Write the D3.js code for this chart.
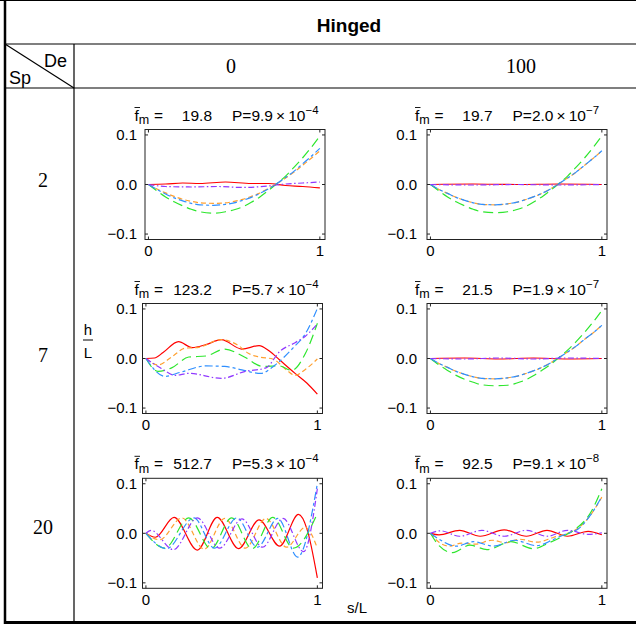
<!DOCTYPE html>
<html>
<head>
<meta charset="utf-8">
<script src="https://cdn.jsdelivr.net/npm/d3@7"></script>
<style>
  body { margin: 0; background: #fff; }
  svg { display: block; }
</style>
</head>
<body>
<svg id="chart" width="636" height="627"></svg>
<script>
// table labels
const rowLabels = ['2', '7', '20']
const colLabels = ['0', '100']
const fmValues = [['19.8', '19.7'], ['123.2', '21.5'], ['512.7', '92.5']]
const pMantissa = [['9.9', '2.0'], ['5.7', '1.9'], ['5.3', '9.1']]
const pExponent = [['−4', '−7'], ['−4', '−7'], ['−4', '−8']]
const xTicks = [0, 1]
const yTicks = [-0.1, 0, 0.1]

// series order in every panel: red, orange, green, blue, purple
// knots are [s/L, h/L]
const sp2de0 = [
  [[0, 0], [0.1, 0.001], [0.2, 0.003], [0.3, 0.002], [0.45, 0.005], [0.6, 0.002], [0.7, 0.002], [0.8, -0.002], [0.9, -0.004], [1, -0.007]],
  [[0, 0], [0.05, -0.009], [0.1, -0.017], [0.15, -0.024], [0.2, -0.03], [0.25, -0.034], [0.3, -0.037], [0.38, -0.038], [0.45, -0.037], [0.5, -0.034], [0.55, -0.03], [0.6, -0.024], [0.65, -0.017], [0.7, -0.008], [0.75, 0.002], [0.8, 0.013], [0.85, 0.025], [0.9, 0.039], [0.95, 0.053], [1, 0.068]],
  [[0, 0], [0.05, -0.013], [0.1, -0.025], [0.15, -0.035], [0.2, -0.043], [0.25, -0.05], [0.3, -0.055], [0.38, -0.058], [0.45, -0.055], [0.5, -0.051], [0.55, -0.045], [0.6, -0.036], [0.65, -0.025], [0.7, -0.012], [0.75, 0.002], [0.8, 0.017], [0.85, 0.035], [0.9, 0.054], [0.95, 0.075], [1, 0.098]],
  [[0, 0], [0.05, -0.01], [0.1, -0.019], [0.15, -0.027], [0.2, -0.033], [0.25, -0.038], [0.3, -0.041], [0.38, -0.042], [0.45, -0.04], [0.5, -0.037], [0.55, -0.032], [0.6, -0.026], [0.65, -0.018], [0.7, -0.009], [0.75, 0.002], [0.8, 0.014], [0.85, 0.027], [0.9, 0.042], [0.95, 0.057], [1, 0.073]],
  [[0, 0], [0.1, -0.004], [0.25, -0.005], [0.4, -0.004], [0.55, -0.006], [0.7, -0.003], [0.8, 0.001], [0.9, 0.003], [1, 0.005]]
]
const sp2de100 = [
  [[0, 0], [0.25, 0.001], [0.5, 0], [0.75, 0.001], [1, 0]],
  [[0, 0], [0.05, -0.01], [0.1, -0.018], [0.15, -0.026], [0.2, -0.032], [0.25, -0.037], [0.3, -0.04], [0.38, -0.041], [0.45, -0.039], [0.5, -0.036], [0.55, -0.031], [0.6, -0.025], [0.65, -0.018], [0.7, -0.009], [0.75, 0.002], [0.8, 0.013], [0.85, 0.025], [0.9, 0.039], [0.95, 0.053], [1, 0.068]],
  [[0, 0], [0.05, -0.013], [0.1, -0.025], [0.15, -0.035], [0.2, -0.043], [0.25, -0.05], [0.3, -0.055], [0.38, -0.057], [0.45, -0.055], [0.5, -0.051], [0.55, -0.045], [0.6, -0.036], [0.65, -0.025], [0.7, -0.012], [0.75, 0.002], [0.8, 0.017], [0.85, 0.035], [0.9, 0.054], [0.95, 0.075], [1, 0.098]],
  [[0, 0], [0.05, -0.01], [0.1, -0.018], [0.15, -0.026], [0.2, -0.032], [0.25, -0.037], [0.3, -0.04], [0.38, -0.041], [0.45, -0.039], [0.5, -0.036], [0.55, -0.031], [0.6, -0.025], [0.65, -0.018], [0.7, -0.009], [0.75, 0.002], [0.8, 0.013], [0.85, 0.025], [0.9, 0.039], [0.95, 0.053], [1, 0.068]],
  [[0, 0], [0.25, -0.001], [0.5, 0], [0.75, -0.001], [1, 0]]
]
const sp7de0 = [
  [[0, 0], [0.05, 0.001], [0.1, 0.012], [0.19, 0.034], [0.27, 0.022], [0.35, 0.028], [0.44, 0.038], [0.56, 0.019], [0.66, 0.026], [0.72, 0.015], [0.78, -0.003], [0.87, -0.03], [0.94, -0.05], [1, -0.072]],
  [[0, 0], [0.07, -0.013], [0.15, 0.003], [0.23, 0.021], [0.3, 0.022], [0.44, 0.038], [0.54, 0.026], [0.6, 0.01], [0.66, 0.003], [0.74, -0.001], [0.82, -0.023], [0.87, -0.034], [0.93, -0.022], [1, -0.001]],
  [[0, 0], [0.07, -0.026], [0.15, -0.019], [0.25, 0.003], [0.35, 0.005], [0.46, 0.019], [0.58, 0.002], [0.68, -0.016], [0.78, -0.015], [0.85, -0.024], [0.93, 0.01], [1, 0.071]],
  [[0, 0], [0.11, -0.036], [0.2, -0.028], [0.35, -0.015], [0.46, -0.016], [0.56, -0.023], [0.67, -0.03], [0.75, -0.014], [0.86, 0.022], [0.93, 0.05], [1, 0.101]],
  [[0, 0], [0.09, -0.02], [0.17, -0.034], [0.25, -0.03], [0.44, -0.04], [0.58, -0.026], [0.7, -0.019], [0.78, 0.014], [0.87, 0.032], [0.93, 0.045], [1, 0.07]]
]
const sp7de100 = [
  [[0, 0], [0.2, 0.001], [0.4, -0.001], [0.6, 0.001], [0.8, -0.001], [1, 0]],
  [[0, 0], [0.05, -0.01], [0.1, -0.018], [0.15, -0.026], [0.2, -0.032], [0.25, -0.037], [0.3, -0.04], [0.38, -0.041], [0.45, -0.039], [0.5, -0.036], [0.55, -0.031], [0.6, -0.025], [0.65, -0.018], [0.7, -0.009], [0.75, 0.002], [0.8, 0.013], [0.85, 0.025], [0.9, 0.039], [0.95, 0.052], [1, 0.067]],
  [[0, 0], [0.05, -0.013], [0.1, -0.024], [0.15, -0.034], [0.2, -0.042], [0.25, -0.048], [0.3, -0.053], [0.38, -0.055], [0.45, -0.054], [0.5, -0.05], [0.55, -0.044], [0.6, -0.035], [0.65, -0.024], [0.7, -0.012], [0.75, 0.002], [0.8, 0.017], [0.85, 0.034], [0.9, 0.053], [0.95, 0.074], [1, 0.097]],
  [[0, 0], [0.05, -0.01], [0.1, -0.018], [0.15, -0.026], [0.2, -0.032], [0.25, -0.037], [0.3, -0.04], [0.38, -0.041], [0.45, -0.039], [0.5, -0.036], [0.55, -0.031], [0.6, -0.025], [0.65, -0.018], [0.7, -0.009], [0.75, 0.002], [0.8, 0.013], [0.85, 0.025], [0.9, 0.039], [0.95, 0.052], [1, 0.067]],
  [[0, 0], [0.2, -0.001], [0.4, 0.001], [0.6, -0.001], [0.8, 0.001], [1, 0]]
]
const sp20de0 = [
  [[0, 0], [0.055, -0.008], [0.164, 0.032], [0.3, -0.034], [0.416, 0.032], [0.54, -0.031], [0.66, 0.027], [0.78, -0.026], [0.89, 0.038], [0.94, 0.008], [1, -0.09]],
  [[0, 0], [0.08, -0.013], [0.21, 0.031], [0.34, -0.032], [0.46, 0.03], [0.58, -0.03], [0.7, 0.03], [0.82, -0.028], [0.93, 0.012], [1, -0.03]],
  [[0, 0], [0.11, -0.03], [0.25, 0.031], [0.38, -0.031], [0.5, 0.031], [0.62, -0.031], [0.74, 0.032], [0.86, -0.03], [1, 0.04]],
  [[0, 0], [0.12, -0.031], [0.28, 0.031], [0.4, -0.03], [0.53, 0.031], [0.65, -0.028], [0.77, 0.03], [0.885, -0.048], [1, 0.1]],
  [[0, 0], [0.03, 0.006], [0.16, -0.033], [0.3, 0.031], [0.43, -0.03], [0.56, 0.029], [0.68, -0.028], [0.8, 0.03], [0.92, -0.037], [1, 0.09]]
]
const sp20de100 = [
  [[0, 0], [0.05, -0.003], [0.17, 0.006], [0.29, -0.006], [0.43, 0.007], [0.56, -0.006], [0.68, 0.006], [0.8, -0.006], [0.92, 0.004], [1, -0.003]],
  [[0, 0], [0.05, -0.018], [0.11, -0.026], [0.18, -0.02], [0.26, -0.022], [0.36, -0.014], [0.44, -0.019], [0.52, -0.012], [0.62, -0.018], [0.72, -0.008], [0.8, 0], [0.86, 0.01], [0.93, 0.035], [1, 0.073]],
  [[0, 0], [0.05, -0.025], [0.13, -0.039], [0.23, -0.024], [0.33, -0.033], [0.47, -0.017], [0.6, -0.031], [0.7, -0.018], [0.78, -0.005], [0.84, 0.007], [0.94, 0.045], [1, 0.09]],
  [[0, 0], [0.05, -0.012], [0.15, -0.026], [0.25, -0.017], [0.37, -0.026], [0.49, -0.014], [0.62, -0.025], [0.72, -0.012], [0.8, 0], [0.86, 0.008], [0.93, 0.035], [1, 0.074]],
  [[0, 0], [0.06, 0.005], [0.17, -0.006], [0.3, 0.006], [0.43, -0.006], [0.56, 0.006], [0.68, -0.006], [0.8, 0.006], [0.92, -0.002], [1, 0.001]]
]
const panelData = [[sp2de0, sp2de100], [sp7de0, sp7de100], [sp20de0, sp20de100]]

const lineStyles = [
  { color: '#ff0000', dash: null },
  { color: '#ffa030', dash: '5,3' },
  { color: '#2ee62e', dash: '10,5' },
  { color: '#2f8fff', dash: '8,3,3,3' },
  { color: '#9038ff', dash: '6,2.5,1.5,2.5' }
]

const sans = 'Liberation Sans, Arial, Helvetica, sans-serif'
const serif = 'Liberation Serif, Times New Roman, serif'

const svg = d3.select('#chart')

// plot geometry
const boxW = 180
const boxH = 110
const boxLeft = [[145, 427], [142.5, 427], [142.5, 427]]
const boxTop = [129.5, 303.5, 478.3]
const tickLabelRight = [137, 417]
const titleStart = [134.5, 415]
const rowCenter = [180, 355, 527]

const x = d3.scaleLinear().domain([-0.02, 1.03]).range([0, boxW])
const y = d3.scaleLinear().domain([-0.111, 0.111]).range([boxH, 0])

const line = d3
  .line()
  .x(d => x(d[0]))
  .y(d => y(d[1]))
  .curve(d3.curveMonotoneX)

// ---- table frame
const frame = svg.append('g').attr('stroke', '#000').attr('fill', 'none')
frame.append('line').attr('x1', 0).attr('x2', 636).attr('y1', 0.5).attr('y2', 0.5).attr('stroke-width', 1)
frame.append('line').attr('x1', 5).attr('x2', 5).attr('y1', 0).attr('y2', 624).attr('stroke-width', 2.5)
frame.append('line').attr('x1', 4).attr('x2', 636).attr('y1', 622.5).attr('y2', 622.5).attr('stroke-width', 3)
frame.append('line').attr('x1', 5).attr('x2', 636).attr('y1', 44).attr('y2', 44).attr('stroke-width', 1.2)
frame.append('line').attr('x1', 5).attr('x2', 636).attr('y1', 88).attr('y2', 88).attr('stroke-width', 1.2)
frame.append('line').attr('x1', 74).attr('x2', 74).attr('y1', 44).attr('y2', 622).attr('stroke-width', 1.2)
frame.append('line').attr('x1', 5).attr('x2', 74).attr('y1', 44).attr('y2', 88).attr('stroke-width', 1.2)

svg
  .append('text')
  .attr('x', 349)
  .attr('y', 32)
  .attr('text-anchor', 'middle')
  .style('font-family', sans)
  .style('font-weight', 700)
  .style('font-size', '19px')
  .text('Hinged')

svg.append('text').attr('x', 44).attr('y', 67).style('font-family', sans).style('font-size', '18px').text('De')
svg.append('text').attr('x', 9).attr('y', 84).style('font-family', sans).style('font-size', '18px').text('Sp')

svg
  .selectAll('.colLabel')
  .data(colLabels)
  .enter()
  .append('text')
  .attr('class', 'colLabel')
  .attr('x', (d, i) => [231, 521][i])
  .attr('y', 73)
  .attr('text-anchor', 'middle')
  .style('font-family', serif)
  .style('font-size', '20px')
  .text(d => d)

svg
  .selectAll('.rowLabel')
  .data(rowLabels)
  .enter()
  .append('text')
  .attr('class', 'rowLabel')
  .attr('x', 43)
  .attr('y', (d, i) => rowCenter[i] + 7)
  .attr('text-anchor', 'middle')
  .style('font-family', serif)
  .style('font-size', '20px')
  .text(d => d)

// h/L axis label
svg.append('text').attr('x', 88).attr('y', 335).attr('text-anchor', 'middle').style('font-family', sans).style('font-size', '15px').text('h')
svg.append('line').attr('x1', 83).attr('x2', 93).attr('y1', 340).attr('y2', 340).attr('stroke', '#000').attr('stroke-width', 1)
svg.append('text').attr('x', 88).attr('y', 358).attr('text-anchor', 'middle').style('font-family', sans).style('font-size', '15px').text('L')

svg.append('text').attr('x', 357).attr('y', 613).attr('text-anchor', 'middle').style('font-family', sans).style('font-size', '15px').text('s/L')

// ---- panels
panelData.forEach(function(row, r) {
  row.forEach(function(series, c) {
    const g = svg
      .append('g')
      .attr('transform', 'translate(' + boxLeft[r][c] + ',' + boxTop[r] + ')')

    g.append('defs')
      .append('clipPath')
      .attr('id', 'clip-' + r + '-' + c)
      .append('rect')
      .attr('width', boxW)
      .attr('height', boxH)

    g.append('g')
      .attr('clip-path', 'url(#clip-' + r + '-' + c + ')')
      .selectAll('path')
      .data(series)
      .enter()
      .append('path')
      .attr('d', line)
      .attr('fill', 'none')
      .attr('stroke', (d, i) => lineStyles[i].color)
      .attr('stroke-width', 1.2)
      .attr('stroke-dasharray', (d, i) => lineStyles[i].dash)

    g.append('rect')
      .attr('width', boxW)
      .attr('height', boxH)
      .attr('fill', 'none')
      .attr('stroke', '#222')
      .attr('stroke-width', 1)

    // inner ticks on all four sides
    yTicks.forEach(function(t) {
      g.append('line').attr('x1', 0).attr('x2', 3).attr('y1', y(t)).attr('y2', y(t)).attr('stroke', '#222')
      g.append('line').attr('x1', boxW - 3).attr('x2', boxW).attr('y1', y(t)).attr('y2', y(t)).attr('stroke', '#222')
    })
    xTicks.forEach(function(t) {
      g.append('line').attr('x1', x(t)).attr('x2', x(t)).attr('y1', boxH).attr('y2', boxH - 3).attr('stroke', '#222')
      g.append('line').attr('x1', x(t)).attr('x2', x(t)).attr('y1', 0).attr('y2', 3).attr('stroke', '#222')
    })

    g.selectAll('.ylab')
      .data(yTicks)
      .enter()
      .append('text')
      .attr('x', tickLabelRight[c] - boxLeft[r][c])
      .attr('y', d => y(d) + 5.3)
      .attr('text-anchor', 'end')
      .style('font-family', sans)
      .style('font-size', '15px')
      .text(d => (d < 0 ? '−' : '') + d3.format('.1f')(Math.abs(d)))

    g.selectAll('.xlab')
      .data(xTicks)
      .enter()
      .append('text')
      .attr('x', d => x(d))
      .attr('y', boxH + 16.5)
      .attr('text-anchor', 'middle')
      .style('font-family', sans)
      .style('font-size', '15px')
      .text(d => d)

    // title: f-bar_m = value   P = m x 10^e
    const tx = titleStart[c]
    const ty = boxTop[r] - 9
    svg.append('text')
      .attr('x', tx)
      .attr('y', ty)
      .style('font-family', sans)
      .style('font-size', '15.5px')
      .text('f')
      .append('tspan')
      .attr('dy', 3.5)
      .style('font-size', '12.5px')
      .text('m')
    svg.append('text')
      .attr('x', tx + 19.5)
      .attr('y', ty)
      .style('font-family', sans)
      .style('font-size', '15.5px')
      .text('=')
    svg.append('line')
      .attr('x1', tx)
      .attr('x2', tx + 5.5)
      .attr('y1', ty - 13)
      .attr('y2', ty - 13)
      .attr('stroke', '#000')
      .attr('stroke-width', 0.9)
    svg.append('text')
      .attr('x', tx + 77.5)
      .attr('y', ty)
      .attr('text-anchor', 'end')
      .style('font-family', sans)
      .style('font-size', '15.5px')
      .text(fmValues[r][c])
    svg.append('text')
      .attr('x', tx + 97.5)
      .attr('y', ty)
      .style('font-family', sans)
      .style('font-size', '15.5px')
      .text('P=' + pMantissa[r][c] + '\u2009×\u200910')
      .append('tspan')
      .attr('dy', -7)
      .style('font-size', '11.5px')
      .text(pExponent[r][c])
  })
})
</script>
</body>
</html>
